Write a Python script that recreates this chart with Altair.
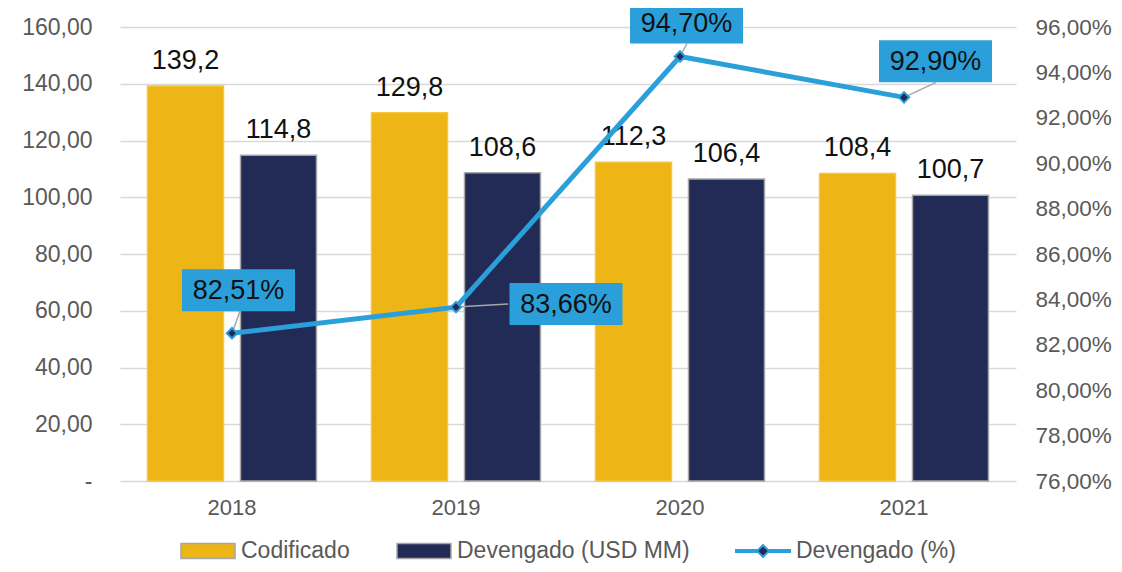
import altair as alt
import pandas as pd

# ---- data ----
years = ["2018", "2019", "2020", "2021"]
codificado = [139.2, 129.8, 112.3, 108.4]
devengado = [114.8, 108.6, 106.4, 100.7]
devengado_pct = [82.51, 83.66, 94.70, 92.90]
series = ["Codificado", "Devengado (USD MM)", "Devengado (%)"]
left_ticks = [0, 20, 40, 60, 80, 100, 120, 140, 160]
right_ticks = [76, 78, 80, 82, 84, 86, 88, 90, 92, 94, 96]

# ---- styles ----
FONT = "Liberation Sans"
GOLD = "#EDB515"
NAVY = "#222A56"
BLUE = "#2B9FDA"
GREY = "#595959"
GRID = "#D9D9D9"

bars_df = pd.DataFrame(
    [{"year": y, "serie": series[0], "value": v} for y, v in zip(years, codificado)]
    + [{"year": y, "serie": series[1], "value": v} for y, v in zip(years, devengado)]
)
line_df = pd.DataFrame({"year": years, "pct": devengado_pct, "serie": [series[2]] * len(years)})

x_enc = alt.X(
    "year:N",
    scale=alt.Scale(domain=years, paddingInner=0, paddingOuter=0),
    axis=alt.Axis(title=None, labelFontSize=22, labelColor=GREY, labelFont=FONT,
                  ticks=False, domain=False, labelPadding=16, labelAngle=0),
)
xoff_enc = alt.XOffset(
    "serie:N",
    scale=alt.Scale(domain=series[:2], paddingInner=0.1828, paddingOuter=0.2957),
)

RECT = "M-1,-0.28H1V0.28H-1Z"
LINESYM = ("M-1,-0.037H-0.24V0.037H-1Z M0.24,-0.037H1V0.037H0.24Z "
           "M0,-0.22L0.22,0L0,0.22L-0.22,0Z")

LEG_Y = 496
bar_legend = alt.Legend(
    title=None, orient="none", legendX=60, legendY=LEG_Y, direction="horizontal",
    symbolType=RECT, symbolSize=2916, symbolOpacity=1, symbolStrokeWidth=1.5,
    labelFontSize=23, labelColor=GREY, labelFont=FONT, labelOffset=5,
    labelLimit=400, columnPadding=44,
)
line_legend = alt.Legend(
    title=None, orient="none", legendX=615, legendY=LEG_Y, direction="horizontal",
    symbolType=LINESYM, symbolSize=2916, symbolOpacity=1, symbolStrokeWidth=2,
    symbolFillColor=NAVY, symbolStrokeColor=BLUE,
    labelFontSize=23, labelColor=GREY, labelFont=FONT, labelOffset=5, labelLimit=400,
)

y_left = alt.Y(
    "value:Q",
    scale=alt.Scale(domain=[0, 160], nice=False),
    axis=alt.Axis(
        title=None, values=left_ticks, grid=True, gridColor=GRID, gridWidth=1.5,
        domain=False, ticks=False, labelPadding=28,
        labelFontSize=23, labelColor=GREY, labelFont=FONT,
        labelExpr="datum.value == 0 ? '-' : replace(format(datum.value, '.2f'), '.', ',')",
    ),
)

bars = alt.Chart(bars_df).mark_bar(strokeWidth=1.5).encode(
    x=x_enc,
    xOffset=xoff_enc,
    y=y_left,
    color=alt.Color("serie:N", scale=alt.Scale(domain=series[:2], range=[GOLD, NAVY]), legend=bar_legend),
    stroke=alt.condition(alt.datum.serie == "Codificado", alt.value("#F5C53A"), alt.value("#A6A6A6")),
)

bar_text = alt.Chart(bars_df).transform_calculate(
    label="replace(format(datum.value, '.1f'), '.', ',')"
).mark_text(dy=-17, baseline="alphabetic", fontSize=27, font=FONT, color="#111111").encode(
    x=x_enc,
    xOffset=xoff_enc,
    y=y_left,
    text="label:N",
)

left = alt.layer(bars, bar_text)

y_right = alt.Y(
    "pct:Q", scale=alt.Scale(domain=[76, 96], nice=False),
    axis=alt.Axis(
        title=None, orient="right", values=right_ticks, grid=False, domain=False,
        ticks=False, labelPadding=19, labelFontSize=22.5, labelColor=GREY, labelFont=FONT,
        labelExpr="replace(format(datum.value, '.2f'), '.', ',') + '%'",
    ),
)

line = alt.Chart(line_df).mark_line(strokeWidth=5).encode(
    x=x_enc, y=y_right,
    stroke=alt.Stroke("serie:N", scale=alt.Scale(domain=[series[2]], range=[BLUE]), legend=line_legend),
)

# label placement per point: (box dx, box dy, leader dx, leader dy)
label_pos = {
    "2018": (6.5, -43, 8, -22),
    "2019": (110, -3, 52, -3),
    "2020": (6.5, -34, 7, -13),
    "2021": (31.5, -36, 32, -15),
}

leaders, boxes, texts = [], [], []
base_lbl = alt.Chart(line_df).transform_calculate(
    label="replace(format(datum.pct, '.2f'), '.', ',') + '%'"
)
for yr, (bdx, bdy, ldx, ldy) in label_pos.items():
    b = base_lbl.transform_filter(alt.datum.year == yr)
    leaders.append(
        b.mark_point(shape=f"M0,0L{ldx},{ldy}", size=4, filled=False,
                     stroke="#A6A6A6", strokeWidth=1.5, opacity=1)
        .encode(x=x_enc, y=y_right)
    )
    boxes.append(
        b.mark_point(shape="M-56.5,-21H56.5V21H-56.5Z", size=4, filled=True,
                     fill=BLUE, strokeWidth=0, opacity=1, xOffset=bdx, yOffset=bdy)
        .encode(x=x_enc, y=y_right)
    )
    texts.append(
        b.mark_text(dx=bdx, dy=bdy + 1, baseline="middle", align="center",
                    fontSize=27, font=FONT, color="#111111")
        .encode(x=x_enc, y=y_right, text="label:N")
    )

points = alt.Chart(line_df).mark_point(
    shape="diamond", size=110, filled=True, fill=NAVY, stroke=BLUE,
    strokeWidth=2, opacity=1,
).encode(x=x_enc, y=y_right)

right = alt.layer(line, *leaders, points, *boxes, *texts)

chart = alt.layer(left, right).resolve_scale(y="independent").properties(
    width=896, height=454,
    padding={"left": 112, "top": 19, "right": 98, "bottom": 83},
    autosize=alt.AutoSizeParams(type="none"),
).configure(font=FONT).configure_view(stroke=None)

chart.save("out.html", embed_options={"renderer": "svg", "actions": False})
